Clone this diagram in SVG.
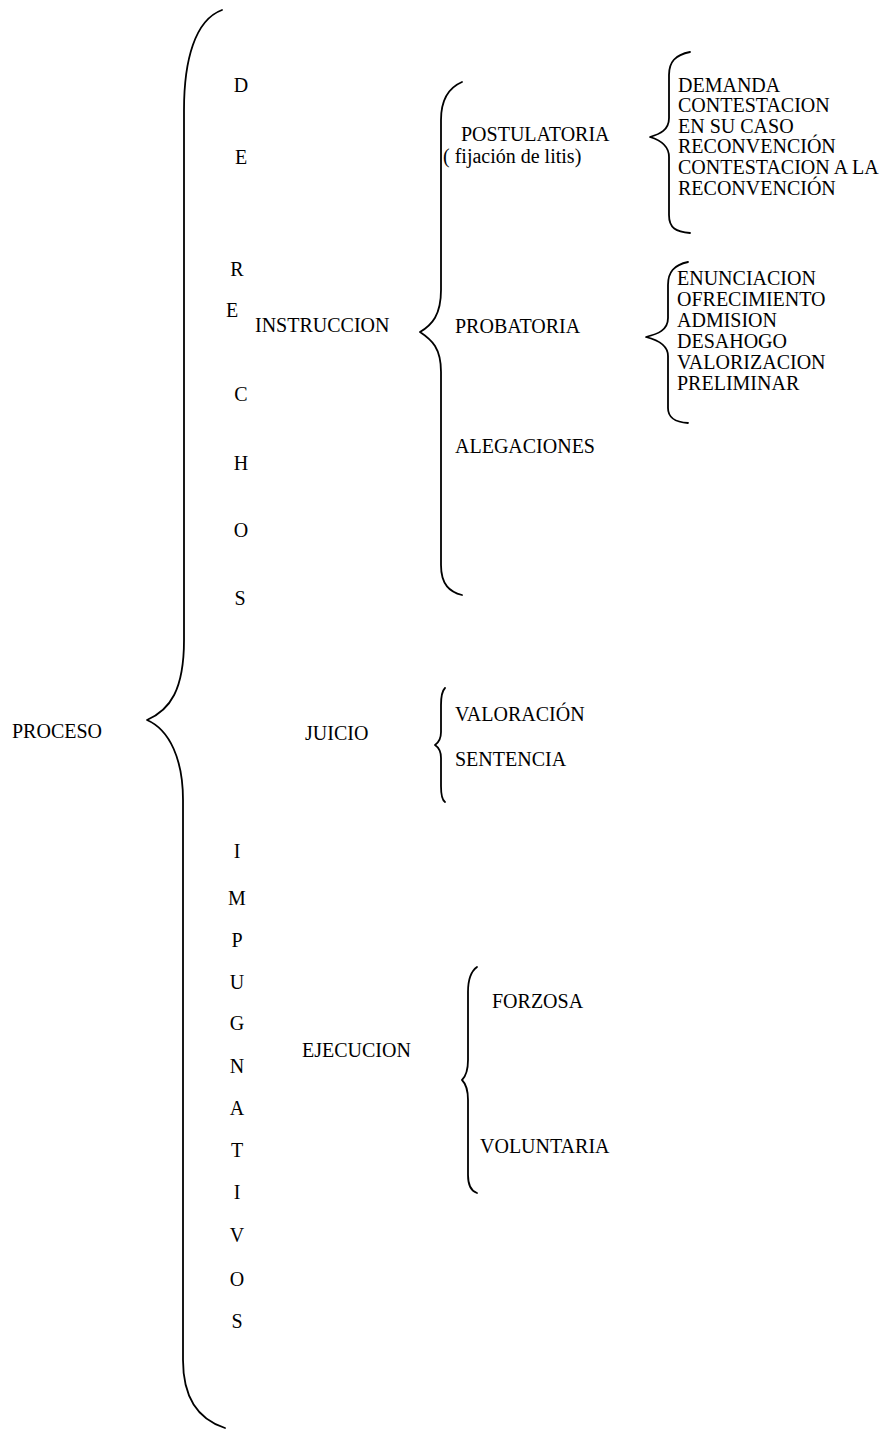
<svg xmlns="http://www.w3.org/2000/svg" width="891" height="1431" viewBox="0 0 891 1431">
<style>
text{font-family:"Liberation Serif","Times New Roman",serif;font-size:20px;fill:#000}
.l{text-anchor:middle}
.b{fill:none;stroke:#000;stroke-width:1.8;stroke-linecap:round;stroke-linejoin:round}
</style>
<rect width="891" height="1431" fill="#fff"/>
<g id="connectors">
<path class="b" d="M222,10 C195,20 184,60 184,110 L184,640 C184,690 170,710 147,720 C170,730 183,760 183,800 L183,1360 C183,1400 200,1420 225,1428"/>
<path class="b" d="M462,82 C448,88 441,100 441,120 L441,290 C441,315 432,325 420,332 C432,340 441,348 441,372 L441,565 C441,585 450,592 462,595"/>
<path class="b" d="M690,52 C675,55 669,62 669,75 L669,118 C669,130 660,134 650,137 C660,140 669,145 669,157 L669,215 C669,228 676,232 690,233"/>
<path class="b" d="M688,262 C674,265 668,272 668,285 L668,318 C668,330 658,334 646,337 C658,340 668,345 668,356 L668,408 C668,418 675,422 688,423"/>
<path class="b" d="M445,688 C442,691 441,697 441,705 L441,732 C441,740 438,743 435,745 C438,747 441,750 441,758 L441,786 C441,795 442,800 445,802"/>
<path class="b" d="M477,967 C470,972 468,980 468,992 L468,1060 C468,1072 465,1077 462,1080 C465,1083 468,1088 468,1100 L468,1175 C468,1186 471,1191 477,1193"/>
</g>
<g id="proceso"><text x="12" y="738">PROCESO</text></g>
<g id="derechos">
<text class="l" x="241" y="92">D</text>
<text class="l" x="241" y="164">E</text>
<text class="l" x="237" y="276">R</text>
<text class="l" x="232" y="317">E</text>
<text class="l" x="241" y="401">C</text>
<text class="l" x="241" y="470">H</text>
<text class="l" x="241" y="537">O</text>
<text class="l" x="240" y="605">S</text>
</g>
<g id="impugnativos">
<text class="l" x="237" y="858">I</text>
<text class="l" x="237" y="905">M</text>
<text class="l" x="237" y="947">P</text>
<text class="l" x="237" y="989">U</text>
<text class="l" x="237" y="1030">G</text>
<text class="l" x="237" y="1073">N</text>
<text class="l" x="237" y="1115">A</text>
<text class="l" x="237" y="1157">T</text>
<text class="l" x="237" y="1199">I</text>
<text class="l" x="237" y="1242">V</text>
<text class="l" x="237" y="1286">O</text>
<text class="l" x="237" y="1328">S</text>
</g>
<g id="instruccion"><text x="255" y="332">INSTRUCCION</text></g>
<g id="postulatoria"><text x="461" y="141">POSTULATORIA</text><text x="443" y="163">( fijación de litis)</text></g>
<g id="probatoria"><text x="455" y="333">PROBATORIA</text></g>
<g id="alegaciones"><text x="455" y="453">ALEGACIONES</text></g>
<g id="postulatoria-items">
<text x="678" y="92">DEMANDA</text>
<text x="678" y="112">CONTESTACION</text>
<text x="678" y="133">EN  SU  CASO</text>
<text x="678" y="153">RECONVENCIÓN</text>
<text x="678" y="174">CONTESTACION A LA</text>
<text x="678" y="195">RECONVENCIÓN</text>
</g>
<g id="probatoria-items">
<text x="677" y="285">ENUNCIACION</text>
<text x="677" y="306">OFRECIMIENTO</text>
<text x="677" y="327">ADMISION</text>
<text x="677" y="348">DESAHOGO</text>
<text x="677" y="369">VALORIZACION</text>
<text x="677" y="390">PRELIMINAR</text>
</g>
<g id="juicio"><text x="305" y="740">JUICIO</text></g>
<g id="valoracion"><text x="455" y="721">VALORACIÓN</text></g>
<g id="sentencia"><text x="455" y="766">SENTENCIA</text></g>
<g id="ejecucion"><text x="302" y="1057">EJECUCION</text></g>
<g id="forzosa"><text x="492" y="1008">FORZOSA</text></g>
<g id="voluntaria"><text x="480" y="1153">VOLUNTARIA</text></g>
</svg>
